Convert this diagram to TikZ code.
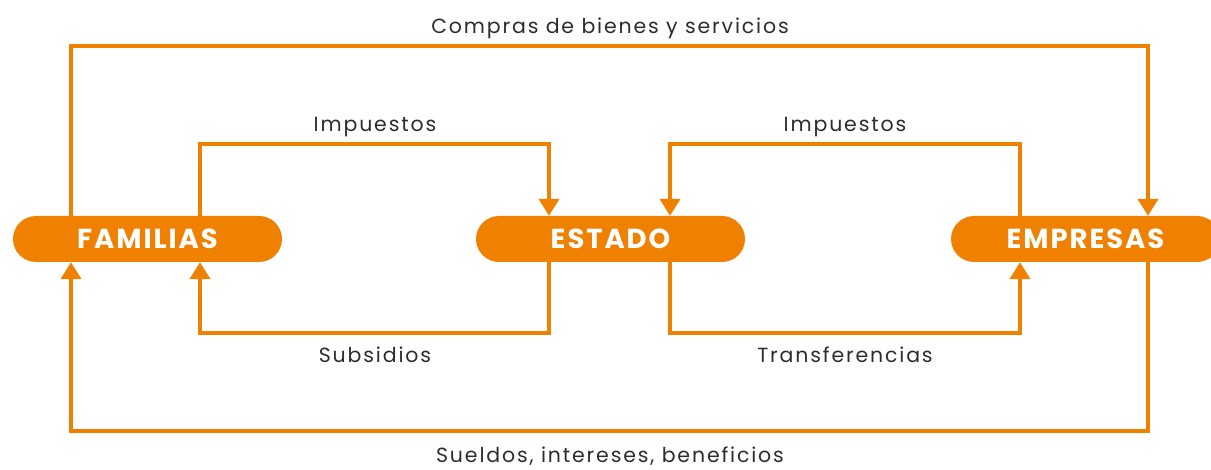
\documentclass[tikz,border=0pt]{standalone}
\usepackage{fontspec}
\setmainfont{Poppins}
\usetikzlibrary{arrows.meta}
\definecolor{flow}{RGB}{240,128,0}
\definecolor{lbl}{RGB}{45,45,45}
\newfontfamily\lblfont[LetterSpace=9]{Poppins}
\newfontfamily\agentfont[LetterSpace=7]{Poppins}
\tikzset{
  agent/.style={fill=flow, rounded corners=23pt, minimum width=269pt, minimum height=46pt, inner sep=0pt, text=white, font=\agentfont\fontsize{27.5}{27.5}\selectfont\bfseries},
  flowline/.style={draw=flow, line width=4pt},
  arr/.style={flowline, -{Triangle[width=20pt,length=17pt]}},
  lab/.style={text=lbl, font=\lblfont\fontsize{20.5}{20.5}\selectfont, inner sep=0pt}
}
\begin{document}
\begin{tikzpicture}[x=1pt,y=-1pt]
\useasboundingbox (0,0) rectangle (1211,470);
\node[agent] (fam) at (147.5,239) {FAMILIAS};
\node[agent] (est) at (610.5,239) {ESTADO};
\node[agent] (emp) at (1085.5,239) {EMPRESAS};
% outer loops
\draw[arr] (71,0 |- fam.north) -- (71,46) -- (1148,46) -- (1148,0 |- emp.north);
\draw[arr] (1148,0 |- emp.south) -- (1148,431) -- (71,431) -- (71,0 |- fam.south);
% left inner loops
\draw[arr] (200,0 |- fam.north) -- (200,144) -- (549,144) -- (549,0 |- est.north);
\draw[arr] (549,0 |- est.south) -- (549,333) -- (200,333) -- (200,0 |- fam.south);
% right inner loops
\draw[arr] (1020,0 |- emp.north) -- (1020,144) -- (670,144) -- (670,0 |- est.north);
\draw[arr] (670,0 |- est.south) -- (670,333) -- (1020,333) -- (1020,0 |- emp.south);
% labels
\node[lab] (l1) at (610,28) {Compras de bienes y servicios};
\node[lab] (l2) at (375,127) {Impuestos};
\node[lab] (l3) at (845,127) {Impuestos};
\node[lab] (l4) at (375,355) {Subsidios};
\node[lab] (l5) at (845,355) {Transferencias};
\node[lab] (l6) at (610,456.5) {Sueldos, intereses, beneficios};
\end{tikzpicture}
\end{document}
